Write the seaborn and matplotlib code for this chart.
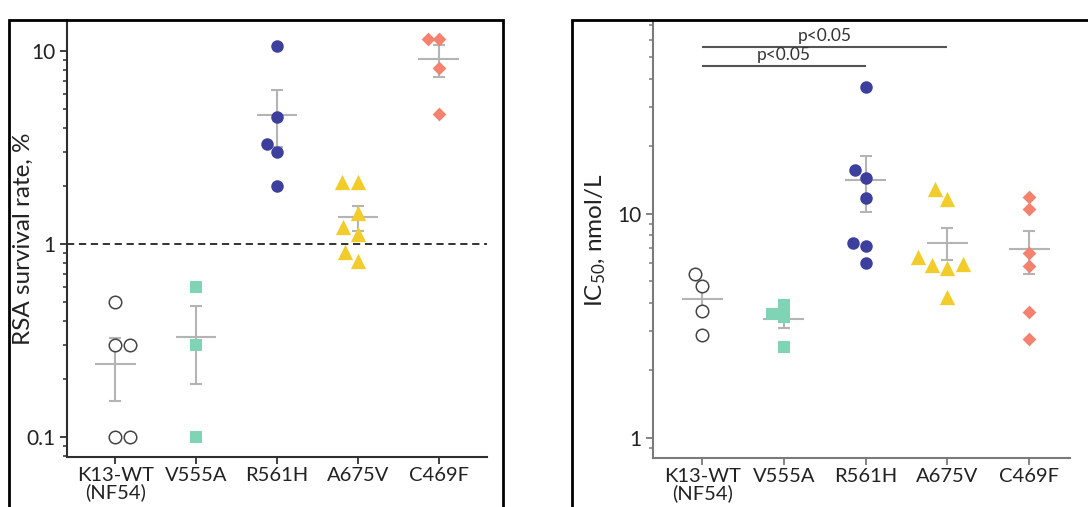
import pandas as pd
import matplotlib.pyplot as plt
import matplotlib.ticker as mticker
from matplotlib.patches import Rectangle
import seaborn as sns

# Strains (x categories)
strains = ["K13-WT\n(NF54)", "V555A", "R561H", "A675V", "C469F"]

# RSA survival rate, % (left panel)
rsa_wt = [0.3, 0.3, 0.5, 0.1, 0.1]
rsa_v555a = [0.3, 0.6, 0.1]
rsa_r561h = [10.6, 4.55, 3.3, 3.0, 2.0]
rsa_a675v = [2.1, 2.1, 1.45, 1.22, 1.13, 0.91, 0.82]
rsa_c469f = [11.5, 11.5, 8.2, 4.7]
rsa_mean = [0.24, 0.33, 4.65, 1.38, 9.1]
rsa_lo = [0.154, 0.188, 3.18, 1.17, 7.3]
rsa_hi = [0.326, 0.48, 6.28, 1.57, 10.7]

# IC50, nmol/L (right panel)
ic50_wt = [5.4, 4.77, 3.69, 2.88]
ic50_v555a = [3.93, 3.47, 3.58, 2.55]
ic50_r561h = [36.9, 15.7, 14.5, 11.8, 7.2, 7.4, 6.0]
ic50_a675v = [12.9, 11.7, 6.42, 5.98, 5.74, 5.9, 4.26]
ic50_c469f = [11.9, 10.5, 6.7, 5.86, 3.65, 2.77]
ic50_mean = [4.17, 3.4, 14.2, 7.43, 6.98]
ic50_lo = [3.61, 3.1, 10.2, 6.23, 5.4]
ic50_hi = [4.72, 3.66, 18.2, 8.66, 8.4]

# significance brackets on the IC50 panel
sig_from = ["K13-WT\n(NF54)", "K13-WT\n(NF54)"]
sig_to = ["R561H", "A675V"]
sig_y = [45.8, 55.7]
sig_text = ["p<0.05", "p<0.05"]

# marker style per strain
styles = {
    "K13-WT\n(NF54)": dict(marker="o", color="white", edgecolor="#444444", linewidth=1.1, size=9),
    "V555A": dict(marker="s", color="#80d4b6", size=8.5),
    "R561H": dict(marker="o", color="#3c3f9c", size=9),
    "A675V": dict(marker="^", color="#f2cc2a", size=11),
    "C469F": dict(marker="D", color="#f4826f", size=7),
}


def long_table(groups):
    rows = []
    for name, vals in zip(strains, groups):
        for v in vals:
            rows.append({"strain": name, "value": v})
    return pd.DataFrame(rows)


rsa_df = long_table([rsa_wt, rsa_v555a, rsa_r561h, rsa_a675v, rsa_c469f])
ic50_df = long_table([ic50_wt, ic50_v555a, ic50_r561h, ic50_a675v, ic50_c469f])

sns.set_style("ticks")
plt.rcParams["font.family"] = ["Lato", "DejaVu Sans"]
plt.rcParams["mathtext.fontset"] = "custom"
plt.rcParams["mathtext.rm"] = "Lato"
plt.rcParams["mathtext.it"] = "Lato:italic"
plt.rcParams["mathtext.bf"] = "Lato:bold"

fig = plt.figure(figsize=(10.88, 5.07), dpi=100)
ax1 = fig.add_axes([0.0616, 0.0986, 0.386, 0.862])
ax2 = fig.add_axes([0.6002, 0.0966, 0.3833, 0.86])


def draw_panel(ax, df, mean, lo, hi, ylim, spine_color):
    ax.set_yscale("log")
    ax.set_ylim(*ylim)
    for name in strains:
        sub = df[df["strain"] == name]
        sns.swarmplot(data=sub, x="strain", y="value", order=strains, ax=ax,
                      zorder=3, **styles[name])
    xs = list(range(len(strains)))
    yerr = [[m - l for m, l in zip(mean, lo)], [h - m for m, h in zip(mean, hi)]]
    ax.errorbar(xs, mean, yerr=yerr, fmt="none", ecolor="#b4b4b4",
                elinewidth=1.5, capsize=4, capthick=1.5, zorder=2)
    ax.errorbar(xs, mean, xerr=0.25, fmt="none", ecolor="#b4b4b4",
                elinewidth=1.5, capsize=0, zorder=2)
    ax.set_xlabel("")
    sns.despine(ax=ax)
    for s in ["left", "bottom"]:
        ax.spines[s].set_color(spine_color)
        ax.spines[s].set_linewidth(1.5)
    ax.yaxis.set_minor_locator(mticker.LogLocator(base=10, subs=range(2, 10)))
    ax.yaxis.set_minor_formatter(mticker.NullFormatter())
    ax.tick_params(axis="both", which="major", length=5, width=1.3,
                   color=spine_color, labelsize=15, labelcolor="#222222")
    ax.tick_params(axis="x", labelsize=14.5, pad=2.5)
    ax.tick_params(axis="y", which="minor", length=3, width=1.1, color=spine_color)
    for lab in ax.get_xticklabels():
        lab.set_linespacing(0.95)


# Left: RSA survival
draw_panel(ax1, rsa_df, rsa_mean, rsa_lo, rsa_hi, (0.0787, 14.5), "#2e2e2e")
ax1.axhline(1, color="#222222", linestyle=(0, (4, 2.6)), linewidth=1.3, zorder=1)
ax1.set_yticks([0.1, 1, 10])
ax1.set_yticklabels(["0.1", "1", "10"])
ax1.set_xlim(-0.6, 4.6)
ax1.set_ylabel("RSA survival rate, %", fontsize=17.5, color="#222222")
ax1.yaxis.set_label_coords(-0.08, 0.5)

# Right: IC50
draw_panel(ax2, ic50_df, ic50_mean, ic50_lo, ic50_hi, (0.81, 72), "#7a7a7a")
ax2.set_yticks([1, 10])
ax2.set_yticklabels(["1", "10"])
ax2.set_xlim(-0.6, 4.5)
ax2.set_ylabel("IC$_{50}$, nmol/L", fontsize=17.5, color="#222222")
ax2.yaxis.set_label_coords(-0.107, 0.5)

for a, b, y, t in zip(sig_from, sig_to, sig_y, sig_text):
    i0, i1 = strains.index(a), strains.index(b)
    ax2.hlines(y, i0, i1, color="#555555", linewidth=1.5)
    ax2.annotate(t, xy=((i0 + i1) / 2, y), xytext=(0, 2), textcoords="offset points",
                 ha="center", va="bottom", fontsize=12.5, color="#333333")

# outer panel frames
fig.patches.append(Rectangle((9 / 1088, -0.1), 494 / 1088, 1.08 - 10 / 507,
                             transform=fig.transFigure, fill=False,
                             edgecolor="black", linewidth=2))
fig.patches.append(Rectangle((572 / 1088, -0.1), 0.6, 1.08 - 10 / 507,
                             transform=fig.transFigure, fill=False,
                             edgecolor="black", linewidth=2))

fig.savefig("out.png", dpi=100)
